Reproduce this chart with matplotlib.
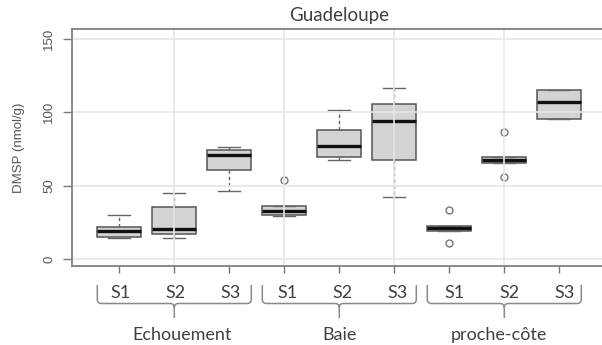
import matplotlib.pyplot as plt
import matplotlib.transforms as mtransforms
from matplotlib.path import Path
from matplotlib.patches import PathPatch

groups = ["Echouement", "Baie", "proche-côte"]
stations = ["S1", "S2", "S3"]

# box statistics, ordered Echouement S1-S3, Baie S1-S3, proche-côte S1-S3
whislo = [14.5, 14.5, 46.4, 29.1, 67.2, 42.4, 19.1, 65.2, 95.2]
q1 = [15.2, 16.8, 60.7, 30.0, 69.7, 67.6, 19.1, 65.2, 95.2]
med = [19.3, 20.2, 70.5, 32.8, 76.8, 94.0, 20.9, 67.4, 106.9]
q3 = [21.7, 35.3, 74.1, 36.3, 87.9, 105.4, 22.7, 69.3, 115.1]
whishi = [29.7, 45.0, 76.3, 36.3, 101.5, 116.3, 22.7, 69.3, 115.1]
fliers = [[], [], [], [54.0], [], [], [33.2, 10.9], [86.5, 56.1], []]

yticks = [0, 50, 100, 150]

W, H = 602, 345
fig = plt.figure(figsize=(W / 100, H / 100), dpi=100)
ax = fig.add_axes([72 / W, 1 - 266 / H, 534.6 / W, 237 / H])

stats = []
for i in range(len(med)):
    stats.append(dict(whislo=whislo[i], q1=q1[i], med=med[i], q3=q3[i],
                      whishi=whishi[i], fliers=fliers[i]))

pos = list(range(1, len(med) + 1))
ax.bxp(stats, positions=pos, widths=0.8, capwidths=0.4, patch_artist=True,
       manage_ticks=False,
       boxprops=dict(facecolor="#d3d3d3", edgecolor="#555555", linewidth=1.1),
       medianprops=dict(color="#111111", linewidth=2.4, solid_capstyle="butt"),
       whiskerprops=dict(color="#666666", linestyle=(0, (2.5, 2)), linewidth=1.0),
       capprops=dict(color="#666666", linewidth=1.0),
       flierprops=dict(marker="o", markerfacecolor="none", markeredgecolor="#777777",
                       markersize=5, markeredgewidth=1.0))

# light grid drawn over the boxes
for y in yticks:
    ax.axhline(y, color="#e6e6e6", lw=1.2, zorder=3)
for x in [2, 4, 6, 8]:
    ax.axvline(x, color="#e6e6e6", lw=1.2, zorder=3)

ax.set_xlim(0.14, 9.86)
ax.set_ylim(-4.8, 156.7)
ax.set_xticks(pos)
ax.set_xticklabels([])
ax.set_yticks(yticks)
ax.set_yticklabels([str(v) for v in yticks], rotation=90, va="center",
                   fontsize=9.5, color="#555555", family="Liberation Sans")
ax.tick_params(axis="y", length=6.5, width=1.0, color="#777777", pad=5.5)
ax.tick_params(axis="x", length=5, width=1.0, color="#777777")
for s in ax.spines.values():
    s.set_color("#808080")
    s.set_linewidth(1.3)
    s.set_zorder(5)

fig.text(19 / W, 1 - 148 / H, "DMSP (nmol/g)", rotation=90, ha="center", va="center",
         fontsize=9.5, color="#555555", family="Liberation Sans")

fig.text((72 + 534.6 / 2) / W, 1 - 21 / H, "Guadeloupe", ha="center", va="baseline",
         fontsize=13.5, color="#404040", family="Lato")

# station labels and braces under the axis
trans = mtransforms.blended_transform_factory(ax.transData, fig.transFigure)
shift = [0.02, 0.06, 0.1]
yt, yh, yb = 1 - 285 / H, 1 - 303.5 / H, 1 - 318 / H
rx, ry = 0.08, 4 / H

for g, name in enumerate(groups):
    first = 1 + 3 * g
    for k, st in enumerate(stations):
        fig.text(first + k + shift[g], 1 - 298 / H, st, transform=trans, ha="center",
                 va="baseline", fontsize=13, color="#404040", family="Lato")
    x0, x1, xm = first - 0.4, first + 2.4, first + 1
    verts = [(x0, yt), (x0, yh + ry), (x0, yh), (x0 + rx, yh),
             (xm - rx, yh), (xm, yh), (xm, yh - ry), (xm, yb),
             (xm, yh - ry), (xm, yh), (xm + rx, yh),
             (x1 - rx, yh), (x1, yh), (x1, yh + ry), (x1, yt)]
    codes = [Path.MOVETO, Path.LINETO, Path.CURVE3, Path.CURVE3,
             Path.LINETO, Path.CURVE3, Path.CURVE3, Path.LINETO,
             Path.MOVETO, Path.CURVE3, Path.CURVE3,
             Path.LINETO, Path.CURVE3, Path.CURVE3, Path.LINETO]
    fig.add_artist(PathPatch(Path(verts, codes), transform=trans, fill=False,
                             edgecolor="#8a8a8a", lw=1.1))
    fig.text(xm + [0.15, 0.0, -0.1][g], 1 - 340 / H, name, transform=trans,
             ha="center", va="baseline", fontsize=13, color="#404040", family="Lato")

fig.savefig("out.png", dpi=100)
